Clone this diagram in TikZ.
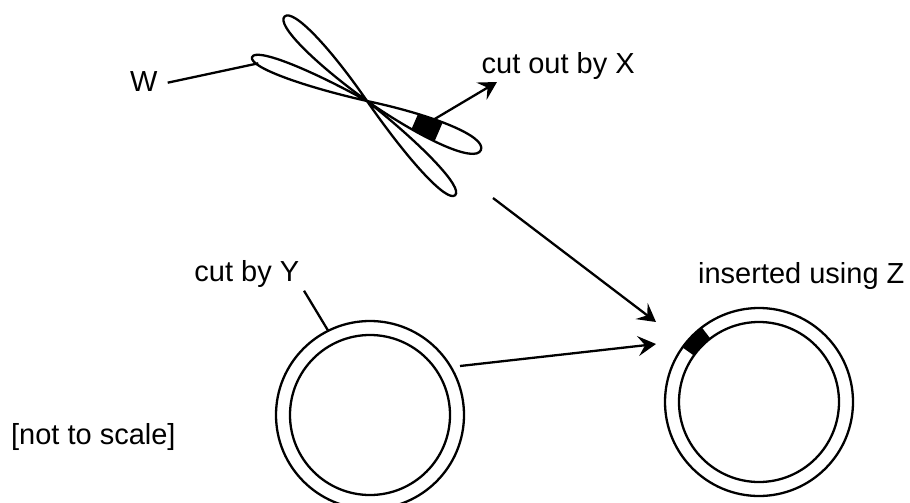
\documentclass[tikz,border=0pt]{standalone}
\usepackage{fontspec}
\setmainfont{Liberation Sans}
\usetikzlibrary{arrows.meta,calc}
\newcommand\petalpath[2]{(0,0) .. controls ({0.55*#1},{0.62*#2}) and (#1,{0.66*#2}) .. (#1,0) .. controls (#1,{-0.66*#2}) and ({0.55*#1},{-0.62*#2}) .. (0,0)}
\begin{document}
\begin{tikzpicture}[x=1pt,y=-1pt,line width=2.3pt,
  lbl/.style={font=\fontsize{29}{35}\selectfont,inner sep=0pt,anchor=base west},
  arr/.style={-{Stealth[length=18pt,width=20pt,inset=7pt]}},
  lead/.style={line cap=butt}]
\useasboundingbox (0,0) rectangle (910,503);
% centromere
\coordinate (C) at (367,101);
% chromatid A
\begin{scope}[shift={(C)},rotate=159.1]
  \draw \petalpath{123}{15.5};
\end{scope}
\begin{scope}[shift={(C)},rotate=-23.3]
  \begin{scope}
    \clip \petalpath{124}{22};
    \fill (52,-20) rectangle (78,20);
  \end{scope}
  \draw \petalpath{124}{22};
\end{scope}
% chromatid B
\begin{scope}[shift={(C)},rotate=134.3]
  \draw \petalpath{118}{18};
\end{scope}
\begin{scope}[shift={(C)},rotate=-46.9]
  \draw \petalpath{129}{17};
\end{scope}
% rings
\coordinate (L) at (370,415);
\coordinate (R) at (759,402);
\draw (L) circle[radius=94];
\draw (L) circle[radius=80];
\fill[shift={(R)}] (-127.5:80) arc[start angle=-127.5,end angle=-144.5,radius=80]
   -- (-144.5:94) arc[start angle=-144.5,end angle=-127.5,radius=94] -- cycle;
\draw (R) circle[radius=94];
\draw (R) circle[radius=80];
% labels
\node[lbl] (W) at (129,91.5) {W};
\node[lbl] (X) at (480.5,73.3) {cut out by X};
\node[lbl] (Y) at (193.3,281.7) {cut by Y};
\node[lbl] (Z) at (697,283.3) {inserted using Z};
\node[lbl] (NS) at (10,444.3) {[not to scale]};
% connector end points
\coordinate (w1) at (167.7,82.7);
\coordinate (w2) at (258.3,63.3);
\coordinate (x1) at (433,120);
\coordinate (x2) at (497,82);
\coordinate (y1) at (304,290.7);
\coordinate (y2) at ($(L)+(-116.4:94)$);
\coordinate (c1) at (493,198);
\coordinate (c2) at (656,322);
\coordinate (r1) at (460,366);
\coordinate (r2) at (656,344);
% connectors
\draw[lead] (w1) -- (w2);
\draw[arr] (x1) -- (x2);
\draw[lead] (y1) -- (y2);
\draw[arr] (c1) -- (c2);
\draw[arr] (r1) -- (r2);
\end{tikzpicture}
\end{document}
